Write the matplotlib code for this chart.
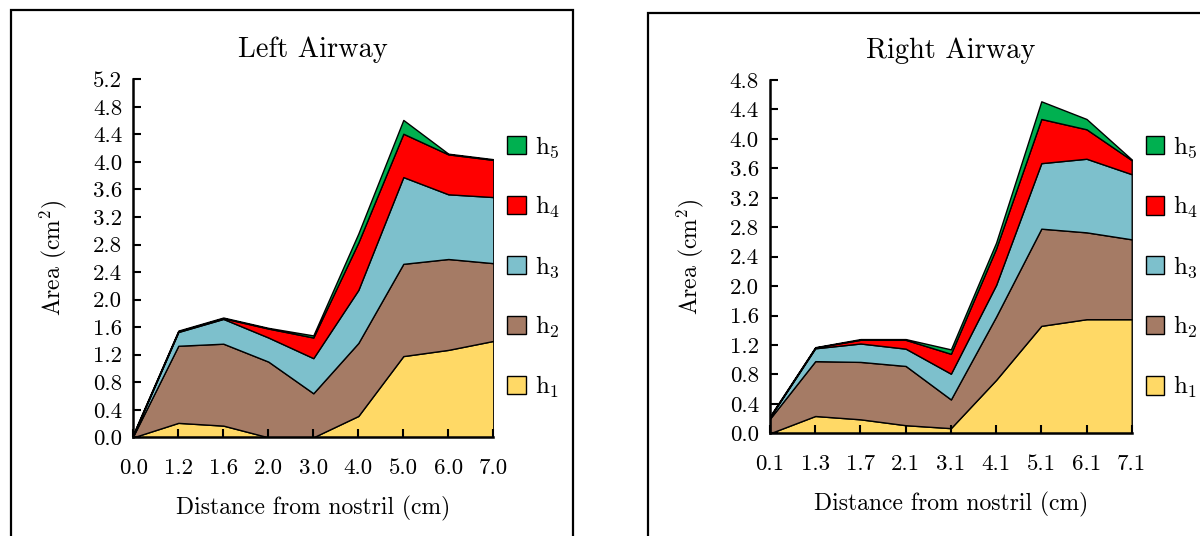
import numpy as np
import matplotlib
matplotlib.use("Agg")
import matplotlib.pyplot as plt
from matplotlib.patches import Rectangle

plt.rcParams['font.family'] = 'serif'
plt.rcParams['font.serif'] = ['cmr10', 'DejaVu Serif']
plt.rcParams['mathtext.fontset'] = 'cm'
plt.rcParams['axes.unicode_minus'] = False

# Datos (area incremental por capa)
izq_dist = ["0.0", "1.2", "1.6", "2.0", "3.0", "4.0", "5.0", "6.0", "7.0"]
izq_h1 = [0.00, 0.21, 0.17, 0.00, 0.00, 0.31, 1.18, 1.27, 1.40]
izq_h2 = [0.02, 1.12, 1.19, 1.10, 0.64, 1.06, 1.34, 1.32, 1.13]
izq_h3 = [0.01, 0.20, 0.36, 0.35, 0.51, 0.77, 1.26, 0.94, 0.96]
izq_h4 = [0.01, 0.01, 0.01, 0.13, 0.30, 0.69, 0.63, 0.58, 0.54]
izq_h5 = [0.01, 0.01, 0.01, 0.01, 0.03, 0.13, 0.20, 0.01, 0.01]

der_dist = ["0.1", "1.3", "1.7", "2.1", "3.1", "4.1", "5.1", "6.1", "7.1"]
der_h1 = [0.00, 0.235, 0.19, 0.11, 0.07, 0.725, 1.46, 1.55, 1.55]
der_h2 = [0.20, 0.745, 0.78, 0.805, 0.39, 0.86, 1.32, 1.18, 1.085]
der_h3 = [0.02, 0.175, 0.25, 0.235, 0.35, 0.43, 0.89, 1.00, 0.885]
der_h4 = [0.005, 0.01, 0.05, 0.12, 0.27, 0.495, 0.60, 0.40, 0.19]
der_h5 = [0.01, 0.005, 0.01, 0.01, 0.06, 0.08, 0.24, 0.14, 0.01]

etiquetas = ["h$_1$", "h$_2$", "h$_3$", "h$_4$", "h$_5$"]
colores = ["#FFD966", "#A57B65", "#7DC0CC", "#FF0000", "#00B050"]

fig = plt.figure(figsize=(12, 5.36), dpi=100)

# Marcos de cada grafica
fig.patches.append(Rectangle((11 / 1200, -0.1), 562 / 1200, 1 - 10 / 536 + 0.1,
                             transform=fig.transFigure, fill=False, lw=1.6, ec='black'))
fig.patches.append(Rectangle((647.5 / 1200, -0.1), 600 / 1200, 1 - 12.5 / 536 + 0.1,
                             transform=fig.transFigure, fill=False, lw=1.6, ec='black'))


def dibujar(pos, dist, capas, titulo, ymax):
    ax = fig.add_axes(pos)
    x = np.arange(len(dist))
    ax.stackplot(x, *capas, colors=colores, edgecolor='black', linewidth=1.0, labels=etiquetas)
    ax.set_xlim(0, len(dist) - 1)
    ax.set_ylim(0, ymax)
    ax.set_xticks(x)
    ax.set_xticklabels(dist)
    ax.set_yticks(np.arange(0, ymax + 0.01, 0.4))
    ax.set_yticklabels(["%.1f" % v for v in np.arange(0, ymax + 0.01, 0.4)])
    ax.tick_params(direction='in', length=6, width=1.5, labelsize=16.5, pad=8)
    ax.tick_params(axis='x', pad=15)
    for s in ['top', 'right']:
        ax.spines[s].set_visible(False)
    for s in ['left', 'bottom']:
        ax.spines[s].set_linewidth(1.8)
        ax.spines[s].set_zorder(5)
    ax.set_title(titulo, fontsize=20.5, pad=16)
    ax.set_xlabel("Distance from nostril (cm)", fontsize=17, labelpad=13)
    ax.set_ylabel("Area (cm$^2$)", fontsize=17, labelpad=17)
    h, l = ax.get_legend_handles_labels()
    ax.legend(h[::-1], l[::-1], loc='upper left', bbox_to_anchor=(0.99, 0.895),
              frameon=False, fontsize=18, handlelength=0.75, handleheight=0.75,
              handletextpad=0.35, labelspacing=1.36, borderaxespad=0.3)
    return ax


dibujar([0.1111, 0.1841, 0.300, 0.6679], izq_dist,
        [izq_h1, izq_h2, izq_h3, izq_h4, izq_h5], "Left Airway", 5.2)
dibujar([0.6417, 0.1916, 0.3014, 0.6592], der_dist,
        [der_h1, der_h2, der_h3, der_h4, der_h5], "Right Airway", 4.8)

plt.savefig("out.png", dpi=100)
